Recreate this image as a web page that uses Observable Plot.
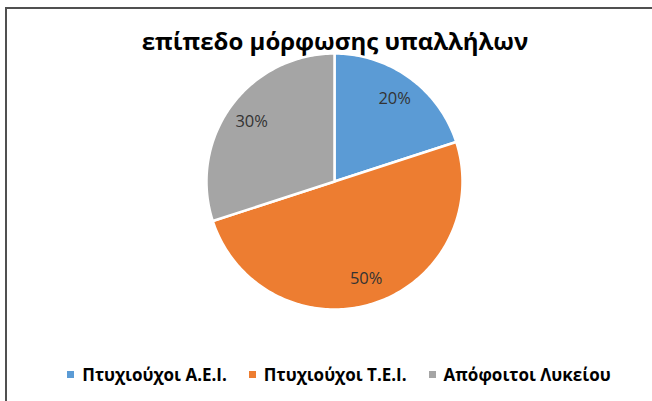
<!DOCTYPE html>
<html>
<head>
<meta charset="utf-8">
<script src="https://cdn.jsdelivr.net/npm/d3@7"></script>
<script src="https://cdn.jsdelivr.net/npm/@observablehq/plot@0.6"></script>
<style>
  html, body { margin: 0; padding: 0; background: #fff; }
  #frame { position: relative; width: 652px; height: 401px; overflow: hidden; }
  #box { position: absolute; left: 5px; top: 7px; width: 660px; height: 420px;
         border-top: 2px solid #505050; border-left: 2px solid #505050; box-sizing: border-box; }
  #title { position: absolute; left: 0; width: 670px; top: 24px; text-align: center;
           font-family: "Open Sans", sans-serif; font-weight: 700; font-size: 24px; color: #000; }
  #chart { position: absolute; left: 0; top: 48px; }
  #legend { position: absolute; top: 363px; left: 0; width: 678px; display: flex; justify-content: center;
            font-family: "Open Sans", sans-serif; font-weight: 700; font-size: 17px; color: #000; }
  .item { display: flex; align-items: center; margin: 0 11px; }
  .sw { width: 7px; height: 7px; margin-right: 8px; }
</style>
</head>
<body>
<div id="frame">
  <div id="box"></div>
  <div id="title"></div>
  <div id="chart"></div>
  <div id="legend"></div>
</div>
<script>
const title = "επίπεδο μόρφωσης υπαλλήλων";
const categories = ["Πτυχιούχοι Α.Ε.Ι.", "Πτυχιούχοι Τ.Ε.Ι.", "Απόφοιτοι Λυκείου"];
const values = [20, 50, 30];
const colors = ["#5B9BD5", "#ED7D31", "#A5A5A5"];

document.getElementById("title").textContent = title;

const arcs = d3.pie().sort(null).value(d => d)(values);
const poly = [];
const labels = [];
arcs.forEach((a, i) => {
  const name = categories[i];
  poly.push({name, x: 0, y: 0});
  const steps = Math.max(2, Math.ceil((a.endAngle - a.startAngle) / (Math.PI / 180)));
  for (let k = 0; k <= steps; k++) {
    const t = a.startAngle + (a.endAngle - a.startAngle) * k / steps;
    poly.push({name, x: Math.sin(t), y: Math.cos(t)});
  }
  poly.push({name, x: 0, y: 0});
  const m = (a.startAngle + a.endAngle) / 2;
  labels.push({name, x: 0.8 * Math.sin(m), y: 0.8 * Math.cos(m), text: values[i] + "%"});
});

const H = 264, cy = 181 - 48;
const chart = Plot.plot({
  width: 652,
  height: H,
  margin: 0,
  x: {domain: [-1, 1], range: [334 - 128, 334 + 128], axis: null},
  y: {domain: [-1, 1], range: [cy + 128, cy - 128], axis: null},
  color: {domain: categories, range: colors},
  style: {background: "transparent", overflow: "visible"},
  marks: [
    Plot.line(poly, {x: "x", y: "y", z: "name", fill: "name", stroke: "#fff", strokeWidth: 2.5, strokeLinejoin: "round"}),
    Plot.text(labels, {x: "x", y: "y", text: "text", fill: "#333", fontSize: 16.5, fontFamily: "Open Sans, sans-serif"})
  ]
});
document.getElementById("chart").appendChild(chart);

const leg = document.getElementById("legend");
categories.forEach((c, i) => {
  const it = document.createElement("div");
  it.className = "item";
  const sw = document.createElement("span");
  sw.className = "sw";
  sw.style.background = colors[i];
  const tx = document.createElement("span");
  tx.textContent = c;
  it.appendChild(sw); it.appendChild(tx);
  leg.appendChild(it);
});
</script>
</body>
</html>
